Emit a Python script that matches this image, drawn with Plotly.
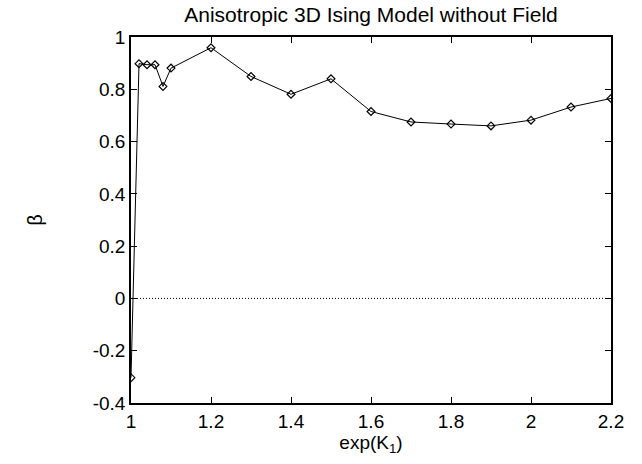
import plotly.graph_objects as go

exp_k1 = [1.0, 1.02, 1.04, 1.06, 1.08, 1.1, 1.2, 1.3, 1.4, 1.5, 1.6, 1.7, 1.8, 1.9, 2.0, 2.1, 2.2]
beta = [-0.303, 0.898, 0.894, 0.894, 0.811, 0.881, 0.959, 0.849, 0.781, 0.840,
        0.715, 0.675, 0.667, 0.660, 0.682, 0.732, 0.765]

x_ticks = [1, 1.2, 1.4, 1.6, 1.8, 2, 2.2]
x_tick_labels = ["1", "1.2", "1.4", "1.6", "1.8", "2", "2.2"]
y_ticks = [-0.4, -0.2, 0, 0.2, 0.4, 0.6, 0.8, 1]
y_tick_labels = ["-0.4", "-0.2", "0", "0.2", "0.4", "0.6", "0.8", "1"]

FONT = "Liberation Sans, Arial, Helvetica, sans-serif"

fig = go.Figure()
fig.add_trace(go.Scatter(
    x=exp_k1, y=beta, mode="lines+markers",
    line=dict(color="black", width=1),
    marker=dict(symbol="diamond-open", size=6, color="black", line=dict(width=1.2)),
    showlegend=False,
))

fig.add_shape(type="line", xref="paper", yref="y", x0=0, x1=1, y0=0, y1=0,
              line=dict(color="black", width=1, dash="1px,2px"))

axis_common = dict(
    showline=True, linecolor="black", linewidth=1.5, mirror="ticks",
    ticks="inside", ticklen=6, tickcolor="black", tickwidth=1,
    showgrid=False, zeroline=False,
    tickfont=dict(family=FONT, size=19, color="black"),
)

fig.update_layout(
    width=642, height=464,
    margin=dict(l=131, r=31, t=37, b=61),
    paper_bgcolor="white", plot_bgcolor="white",
    title=dict(text="Anisotropic 3D Ising Model without Field",
               font=dict(family=FONT, size=21, color="black"),
               x=0.5, xref="paper", xanchor="center",
               y=1 - 15 / 464, yref="container", yanchor="middle"),
    xaxis=dict(range=[1, 2.2], tickvals=x_ticks, ticktext=x_tick_labels,
               title=dict(text="exp(K<sub>1</sub>)", standoff=2,
                          font=dict(family=FONT, size=19, color="black")),
               **axis_common),
    yaxis=dict(range=[-0.4, 1], tickvals=y_ticks, ticktext=y_tick_labels,
               title=dict(text="β", standoff=45,
                          font=dict(family=FONT, size=20, color="black")),
               **axis_common),
)

fig.write_html("out.html")
